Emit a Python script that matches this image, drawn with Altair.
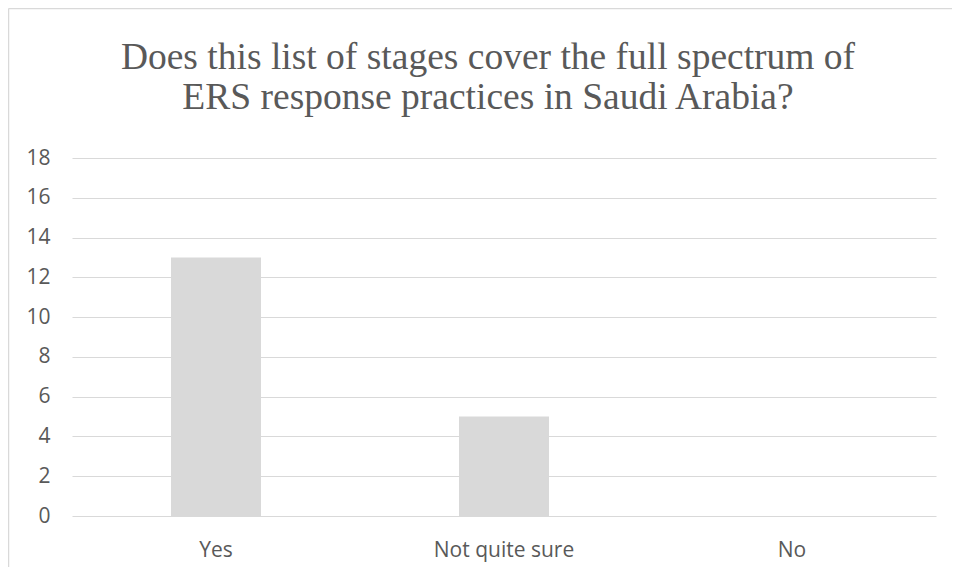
import altair as alt
import pandas as pd

categories = ["Yes", "Not quite sure", "No"]
counts = [13, 5, 0]
title_lines = ["Does this list of stages cover the full spectrum of",
               "ERS response practices in Saudi Arabia?"]
y_ticks = list(range(0, 19, 2))

df = pd.DataFrame({"answer": categories, "count": counts})

GRAY = "#d9d9d9"
TEXT = "#595959"

bars = alt.Chart(df).mark_bar(color=GRAY).encode(
    x=alt.X("answer:N", sort=categories,
            scale=alt.Scale(paddingInner=0.6875, paddingOuter=0.34375),
            axis=alt.Axis(title=None, labelAngle=0, domain=False, ticks=False,
                          labelPadding=23, labelFont="Open Sans", labelFontSize=21,
                          labelColor=TEXT)),
    y=alt.Y("count:Q", scale=alt.Scale(domain=[0, 18], nice=False),
            axis=alt.Axis(title=None, values=y_ticks, domain=False, ticks=False,
                          labelPadding=22, labelFont="Open Sans", labelFontSize=21,
                          labelColor=TEXT, gridColor=GRAY, gridWidth=1)),
)

one = pd.DataFrame({"a": [0]})
left_edge = alt.Chart(one).mark_rule(color=GRAY, strokeWidth=1.5).encode(
    x=alt.value(-63.5), y=alt.value(-149.5), y2=alt.value(409),
)
top_edge = alt.Chart(one).mark_rule(color=GRAY, strokeWidth=1.5).encode(
    x=alt.value(-63.5), x2=alt.value(880), y=alt.value(-149.5),
)

title1 = alt.Chart(pd.DataFrame({"t": [title_lines[0]]})).mark_text(
    font="Liberation Serif", fontSize=37.5, color=TEXT, align="center",
    baseline="alphabetic"
).encode(text="t:N", x=alt.value(416), y=alt.value(-89))

title2 = alt.Chart(pd.DataFrame({"t": [title_lines[1]]})).mark_text(
    font="Liberation Serif", fontSize=37.5, color=TEXT, align="center",
    baseline="alphabetic"
).encode(text="t:N", x=alt.value(416), y=alt.value(-49))

chart = alt.layer(bars, left_edge, top_edge, title1, title2).properties(
    width=864, height=358,
    padding={"left": 64, "top": 150, "right": 16, "bottom": 51},
    autosize=alt.AutoSizeParams(type="none"),
).configure_view(stroke=None)

chart.save("out.html", embed_options={"renderer": "svg", "actions": False})
